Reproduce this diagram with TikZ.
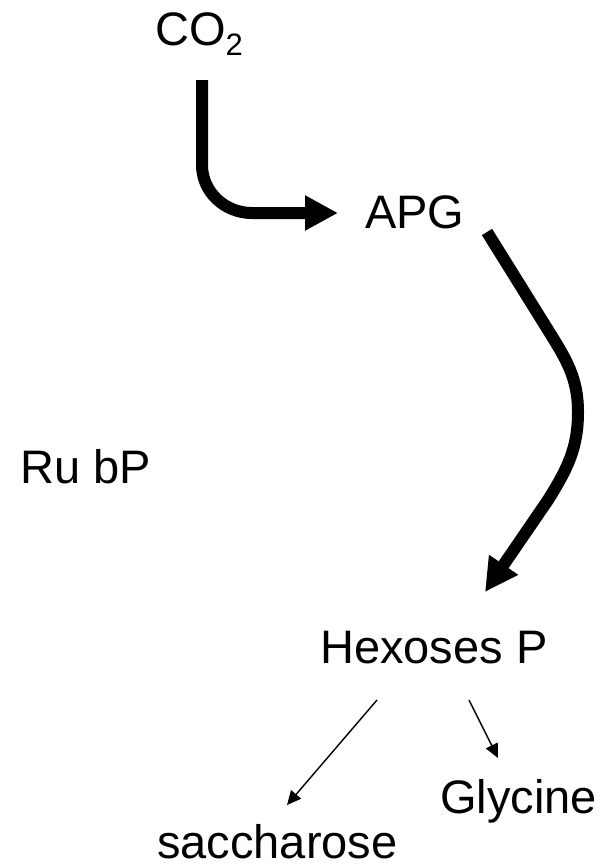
\documentclass[tikz,border=0pt]{standalone}
\usepackage{fontspec}
\setmainfont{Liberation Sans}
\usetikzlibrary{arrows.meta}
\begin{document}
\begin{tikzpicture}[x=1pt,y=-1pt,
  lbl/.style={anchor=base west,inner sep=0pt,font=\fontsize{47}{50}\selectfont},
  thick arrow/.style={line width=12pt,-{Triangle[length=33pt,width=33pt]}},
  thin arrow/.style={line width=1.4pt,-{Triangle[length=14pt,width=13pt]}}]
\useasboundingbox (0,0) rectangle (611,865);
\node[lbl] (co2) at (155,45) {CO\raisebox{-10pt}{\fontsize{31}{33}\selectfont 2}};
\node[lbl] (apg) at (365,228) {APG};
\node[lbl] (rubp) at (20,483) {Ru bP};
\node[lbl] (hex) at (320,663) {Hexoses P};
\node[lbl] (gly) at (440,813) {Glycine};
\node[lbl] (sac) at (157,858) {saccharose};
\coordinate (a1s) at (202,80);
\coordinate (a1e) at (338,213);
\coordinate (a2s) at (487,232);
\coordinate (a2m) at (578,412);
\coordinate (a2e) at (485,592);
\coordinate (a3s) at (377,700);
\coordinate (a3e) at (287,805);
\coordinate (a4s) at (469,700);
\coordinate (a4e) at (498,758);
\draw[thick arrow] (a1s) -- (202,165) to[out=-90,in=180] (252,213) -- (a1e);
\draw[thick arrow] (a2s) -- (548,330) to[out=-58,in=90] (a2m) to[out=-90,in=58] (548,500) -- (a2e);
\draw[thin arrow] (a3s) -- (a3e);
\draw[thin arrow] (a4s) -- (a4e);
\end{tikzpicture}
\end{document}
